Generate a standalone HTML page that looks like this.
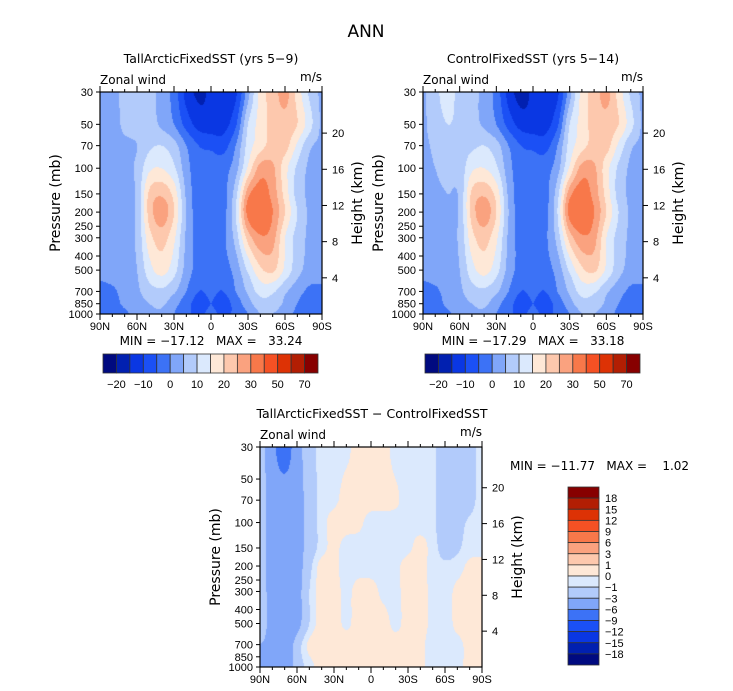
<!DOCTYPE html>
<html><head><meta charset="utf-8">
<style>
html,body{margin:0;padding:0;background:#fff;}
body{width:733px;height:691px;position:relative;overflow:hidden;font-family:"Liberation Sans","DejaVu Sans",sans-serif;}
canvas{position:absolute;}
svg{position:absolute;left:0;top:0;}
text{white-space:pre;}
</style></head>
<body>
<canvas id="c1"></canvas>
<canvas id="c2"></canvas>
<canvas id="c3"></canvas>
<svg id="s" width="733" height="691" xml:space="preserve"></svg>
<script>
// ---- data ----
const lats = [90,80,70,60,50,40,30,20,10,0,-10,-20,-30,-40,-50,-60,-70,-80,-90];
const levels1 = [30,50,70,100,150,200,300,500,700,850,1000];
const u1 = [
 [3,4,6,8,7,3,-2,-12,-16,-14,-12,-11,3,17,22,27,18,9,4],
 [3,3,6,7,7,4,0,-7,-12,-13,-12,-6,10,17,22,23,20,12,4],
 [3,3,4,5,9,10,7,0,-5,-6,-7,0,12,18,22,22,14,6,4],
 [3,3,4,6,14,15,11,2,-3,-3,-2,3,16,27,26,17,9,4,3],
 [3,3,4,6,21,24,18,4,-3,-3,-2,8,28,33,28,18,8,4,3],
 [3,3,4,6,22,28,20,5,-3,-3,-2,10,32,36,30,20,10,4,3],
 [3,3,4,6,18,22,16,4,-2,-3,-1,7,22,29,27,15,8,4,3],
 [2,3,3,5,13,17,12,3,-2,-3,-2,2,11,19,21,14,7,3,2],
 [-2,-1,2,4,8,9,6,0,-5,-4,-5,0,6,12,11,6,2,-1,-1],
 [-3,-2,1,3,5,6,2,-3,-7,-5,-7,-3,3,8,8,4,0,-2,-2],
 [-3,-3,-1,2,4,4,0,-4,-6,-4,-6,-4,0,5,5,2,-1,-3,-3]
];
const u2 = [
 [4,9,11,9,7,3,-2,-12,-17,-14,-12,-11,3,17,22,27,18,9,4],
 [4,8,10,9,7,4,0,-7,-12,-13,-12,-6,10,17,22,23,20,12,4],
 [4,6,8,8,9,10,7,0,-5,-6,-7,0,12,18,22,22,14,6,4],
 [4,5,7,7,14,15,11,2,-3,-3,-2,3,16,27,26,17,9,4,3],
 [4,4,5,6,21,24,18,4,-3,-3,-2,8,28,33,28,18,8,4,3],
 [3,3,4,6,22,28,20,5,-3,-3,-2,10,32,35,30,20,10,4,3],
 [3,3,4,6,18,22,16,4,-2,-3,-1,7,22,29,27,15,8,4,3],
 [2,3,3,5,13,17,12,3,-2,-3,-2,2,11,19,21,14,7,3,2],
 [-2,-1,2,4,8,9,6,0,-5,-4,-5,0,6,12,11,6,2,-1,-1],
 [-3,-2,1,3,5,6,2,-3,-7,-5,-7,-3,3,8,8,4,0,-2,-2],
 [-3,-3,-1,2,4,4,0,-4,-6,-4,-6,-4,0,5,5,2,-1,-3,-3]
];
const levels3 = [30,70,100,150,200,300,500,700,1000];
const d3 = [
 [-2,-5,-8,-4,-2,-0.5,-0.5,-0.3,0.5,0.5,0.5,-0.5,-0.5,-0.5,-0.7,-2,-2,-1.5,-0.5],
 [-2,-4,-4,-4,-2,-0.5,-0.3,0.5,0.5,0.5,0.5,0.2,-0.5,-0.5,-0.7,-2,-2,-1.5,-0.5],
 [-2,-4,-4,-4,-2,-0.5,0.5,0.5,0.3,-0.5,-0.5,-0.5,-0.5,-0.5,-0.7,-2,-1.5,-0.8,-0.5],
 [-2,-4,-4,-4,-2,-0.5,0.3,-0.5,-0.5,-0.5,-0.5,-0.5,-0.3,0.5,-0.5,-1.5,-1.2,-0.5,-0.5],
 [-2,-4,-4,-4,-1.5,0.5,0.3,-0.5,-0.5,-0.5,-0.5,-0.3,0.5,0.5,-0.5,-0.8,-0.5,0.3,0.5],
 [-2,-4,-5,-4,-1,0.5,0.5,-0.3,0.5,0.5,-0.3,-0.3,0.5,0.5,-0.3,-0.5,0.3,0.5,0.5],
 [-2,-4,-6,-4,-1,0.5,0.5,-0.2,0.5,0.5,0.5,-0.3,0.5,0.5,-0.3,-0.5,0.3,0.5,0.5],
 [-3,-4,-5,-2,0.3,0.5,0.5,0.5,0.5,0.5,0.5,0.5,0.5,0.3,-0.5,-0.5,-0.3,0.3,0.2],
 [-5,-5,-5,-2,-0.5,0.5,0.5,0.5,0.5,0.5,0.5,0.5,0.5,0.3,-0.5,-0.5,-0.3,0.3,0.2]
];
const bounds1 = [-20,-15,-10,-5,0,5,10,15,20,25,30,40,50,60,70];
const bounds3 = [-18,-15,-12,-9,-6,-3,-1,0,1,3,6,9,12,15,18];
const cbLabels1 = ["−20","−10","0","10","20","30","50","70"];
const cbLabels3 = ["18","15","12","9","6","3","1","0","−1","−3","−6","−9","−12","−15","−18"];
const colors = ["#000a80","#0120b0","#0a37e3","#1b50f5","#3c72f6","#80a6f9","#b2cbfb","#dbe9fd","#fee8d7","#fdc8ad","#faa27f","#f8784a","#f55124","#dd3205","#b21e03","#870000"];
const presTicks = [30,50,70,100,150,200,250,300,400,500,700,850,1000];
const kmTicks = [4,8,12,16,20];
const latTicks = [90,60,30,0,-30,-60,-90];
const latNames = ["90N","60N","30N","0","30S","60S","90S"];

const NS="http://www.w3.org/2000/svg";
const svg=document.getElementById('s');
const TF='DejaVu Sans, Liberation Sans, sans-serif';
function el(tag,attrs,parent){const e=document.createElementNS(NS,tag);for(const k in attrs)e.setAttribute(k,attrs[k]);(parent||svg).appendChild(e);return e;}
function txt(x,y,s,size,anchor,parent,rot,fam){const t=el('text',{x:x,y:y,'font-size':size,'text-anchor':anchor||'middle',fill:'#000','font-family':fam||'Liberation Sans, DejaVu Sans, sans-serif'},parent);if(rot)t.setAttribute('transform','rotate(-90 '+x+' '+y+')');t.textContent=s;return t;}

function colorIdx(v,b){let i=0;while(i<b.length&&v>=b[i])i++;return i;}
function cr(p0,p1,p2,p3,t){return 0.5*((2*p1)+(-p0+p2)*t+(2*p0-5*p1+4*p2-p3)*t*t+(-p0+3*p1-3*p2+p3)*t*t*t);}
function interp(grid,levs,lat,p){
  const lp=Math.log(p);const nl=levs.length;
  let j=0;while(j<nl-2&&Math.log(levs[j+1])<lp)j++;
  let ty=(lp-Math.log(levs[j]))/(Math.log(levs[j+1])-Math.log(levs[j]));ty=Math.max(0,Math.min(1,ty));
  const n=lats.length-1;const step=180/n;
  let fx=(90-lat)/step;let i=Math.min(n-1,Math.floor(fx));let tx=fx-i;
  const cl=(a,m)=>Math.max(0,Math.min(m,a));
  const rows=[];
  for(let dj=-1;dj<=2;dj++){const r=grid[cl(j+dj,nl-1)];
    rows.push(cr(r[cl(i-1,n)],r[i],r[i+1],r[cl(i+2,n)],tx));}
  const v=cr(rows[0],rows[1],rows[2],rows[3],ty);
  return v;
}
function panel(id,L,T,W,H,grid,levs,bounds,name){
  const cv=document.getElementById(id);cv.width=W;cv.height=H;cv.style.left=L+'px';cv.style.top=T+'px';
  const ctx=cv.getContext('2d');const img=ctx.createImageData(W,H);
  const rgb=colors.map(c=>[parseInt(c.substr(1,2),16),parseInt(c.substr(3,2),16),parseInt(c.substr(5,2),16)]);
  for(let y=0;y<H;y++){const p=30*Math.exp((y+0.5)/H*Math.log(1000/30));
    for(let x=0;x<W;x++){const lat=90-(x+0.5)/W*180;const v=interp(grid,levs,lat,p);const c=rgb[colorIdx(v,bounds)];const k=(y*W+x)*4;img.data[k]=c[0];img.data[k+1]=c[1];img.data[k+2]=c[2];img.data[k+3]=255;}}
  ctx.putImageData(img,0,0);
  const g=el('g',{});
  
  
  el('rect',{x:L,y:T,width:W,height:H,fill:'none',stroke:'#000','stroke-width':1.2},g);
  const yOf=p=>T+Math.log(p/30)/Math.log(1000/30)*H;
  const xOf=lat=>L+(90-lat)/180*W;
  presTicks.forEach(p=>{const y=yOf(p);el('line',{x1:L-4,y1:y,x2:L,y2:y,stroke:'#000'},g);const t=txt(L-7,y+4,String(p),11,'end',g);});
  kmTicks.forEach(z=>{const p=1000*Math.exp(-z/7);const y=yOf(p);el('line',{x1:L+W,y1:y,x2:L+W+5,y2:y,stroke:'#000'},g);const t=txt(L+W+10,y+4,String(z),11,'start',g);});
  for(let lat=90;lat>=-90;lat-=10){const x=xOf(lat);const big=lat%30===0;el('line',{x1:x,y1:T+H,x2:x,y2:T+H+(big?6:3),stroke:'#000'},g);el('line',{x1:x,y1:T,x2:x,y2:T-(big?6:3),stroke:'#000'},g);}
  latTicks.forEach((lat,i)=>{const t=txt(xOf(lat),T+H+16,latNames[i],11,'middle',g);});
  const a=txt(L-40,T+H/2,'Pressure (mb)',14,'middle',g,true,TF);
  const b=txt(L+W+40,T+H/2,'Height (km)',14,'middle',g,true,TF);
  const z=txt(L,T-8,'Zonal wind',12,'start',g,false,TF);
  const m=txt(L+W,T-11,'m/s',12,'end',g,false,TF);
}
panel('c1',100,92,222,222,u1,levels1,bounds1,'panel1');
panel('c2',423,92,220,222,u2,levels1,bounds1,'panel2');
panel('c3',260,447,222,220,d3,levels3,bounds3,'diff');

function hbar(L,T,W,H,name){const g=el('g',{});const bw=W/16;
  colors.forEach((c,i)=>{el('rect',{x:L+i*bw,y:T,width:bw,height:H,fill:c,stroke:'#333','stroke-width':0.8},g);});
  cbLabels1.forEach((s,i)=>{txt(L+(1+2*i)*bw,T+H+15,s,11,'middle',g);});}
hbar(103,354,215,19,'panel1-colorbar');
hbar(425,354,215,19,'panel2-colorbar');
(function(){const L=568,T=487,W=31,H=178;const g=el('g',{});const bh=H/16;
  colors.slice().reverse().forEach((c,i)=>{el('rect',{x:L,y:T+i*bh,width:W,height:bh,fill:c,stroke:'#333','stroke-width':0.8},g);});
  cbLabels3.forEach((s,i)=>{txt(L+W+6,T+(i+1)*bh+4,s,11,'start',g);});})();

let t;
t=txt(366,37,'ANN',17,'middle',null,false,TF);
t=txt(211,63,'TallArcticFixedSST (yrs 5−9)',12.5,'middle',null,false,TF);
t=txt(533,63,'ControlFixedSST (yrs 5−14)',12.5,'middle',null,false,TF);
t=txt(372,418,'TallArcticFixedSST − ControlFixedSST',12.5,'middle',null,false,TF);
t=txt(211,345,'MIN = −17.12   MAX =   33.24',12,'middle',null,false,TF);
t=txt(533,345,'MIN = −17.29   MAX =   33.18',12,'middle',null,false,TF);
t=txt(510,470,'MIN = −11.77   MAX =    1.02',12,'start',null,false,TF);
</script>
</body></html>
